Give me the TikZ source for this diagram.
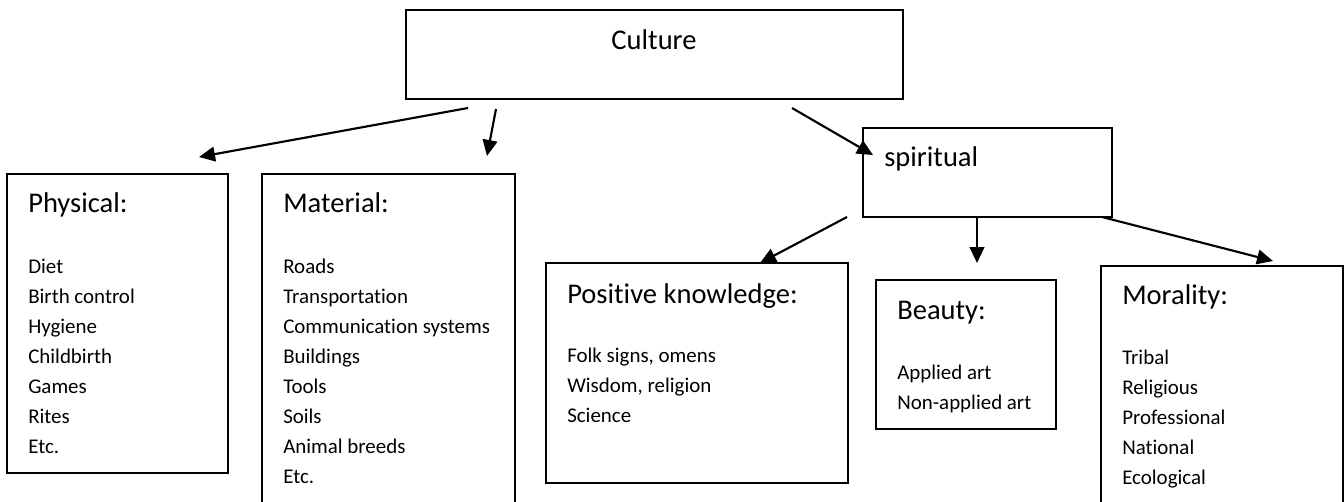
\documentclass[tikz,border=0pt]{standalone}
\usepackage{fontspec}
\setmainfont{Carlito}[Ligatures=NoCommon]
\usetikzlibrary{arrows.meta,fit}
\tikzset{
  box/.style={draw=black, line width=1.4pt, inner sep=0pt, fill=none},
  head/.style={font=\fontsize{21.4}{25}\selectfont, inner sep=0pt, anchor=base west},
  item/.style={font=\fontsize{15.7}{19}\selectfont, inner sep=0pt, anchor=base west},
  conn/.style={line width=1.6pt, -{Triangle[length=12pt,width=11pt]}}
}
\begin{document}
\begin{tikzpicture}[x=0.75pt,y=-0.75pt]
\useasboundingbox (0,0) rectangle (1344,502);
% boxes
\node[box, fit={(406,10) (903,99)}] (culture) {};
\node[box, fit={(863,128) (1112,217)}] (spiritual) {};
\node[box, fit={(7,174) (228,473)}] (physical) {};
\node[box, fit={(262,174) (515,515)}] (material) {};
\node[box, fit={(546,263) (848,483)}] (positive) {};
\node[box, fit={(876,280) (1056,429)}] (beauty) {};
\node[box, fit={(1101,266) (1343,515)}] (morality) {};
% titles
\node[head, anchor=base] (tculture) at (654,50) {Culture};
\node[head] (tspiritual) at (884,167) {spiritual};
\node[head] (tphysical) at (28,213) {Physical:};
\node[head] (tmaterial) at (283,213) {Material:};
\node[head] (tpositive) at (567,303) {Positive knowledge:};
\node[head] (tbeauty) at (897,319) {Beauty:};
\node[head] (tmorality) at (1122,304) {Morality:};
% items
\foreach \t [count=\i] in {Diet,Birth control,Hygiene,Childbirth,Games,Rites,Etc.}
  \node[item] (phy\i) at (28,{273+30*(\i-1)}) {\t};
\foreach \t [count=\i] in {Roads,Transportation,Communication systems,Buildings,Tools,Soils,Animal breeds,Etc.}
  \node[item] (mat\i) at (283,{273+30*(\i-1)}) {\t};
\foreach \t [count=\i] in {{Folk signs, omens},{Wisdom, religion},Science}
  \node[item] (pos\i) at (567,{362+30*(\i-1)}) {\t};
\foreach \t [count=\i] in {Applied art,Non-applied art}
  \node[item] (bea\i) at (897,{379+30*(\i-1)}) {\t};
\foreach \t [count=\i] in {Tribal,Religious,Professional,National,Ecological}
  \node[item] (mor\i) at (1122,{364+30*(\i-1)}) {\t};
% connector end points
\coordinate (c1s) at (468,108);
\coordinate (c1e) at (199,157);
\coordinate (c2s) at (496,109);
\coordinate (c2e) at (487,156);
\coordinate (c3s) at (792,108);
\coordinate (c3e) at (873,155);
\coordinate (s1s) at (847,217);
\coordinate (s1e) at (760,263);
\coordinate (s2s) at (977,218);
\coordinate (s2e) at (977,263);
\coordinate (s3s) at (1102,217);
\coordinate (s3e) at (1273,261);
\draw[conn] (c1s) -- (c1e);
\draw[conn] (c2s) -- (c2e);
\draw[conn] (c3s) -- (c3e);
\draw[conn] (s1s) -- (s1e);
\draw[conn] (s2s) -- (s2e);
\draw[conn] (s3s) -- (s3e);
\end{tikzpicture}
\end{document}
